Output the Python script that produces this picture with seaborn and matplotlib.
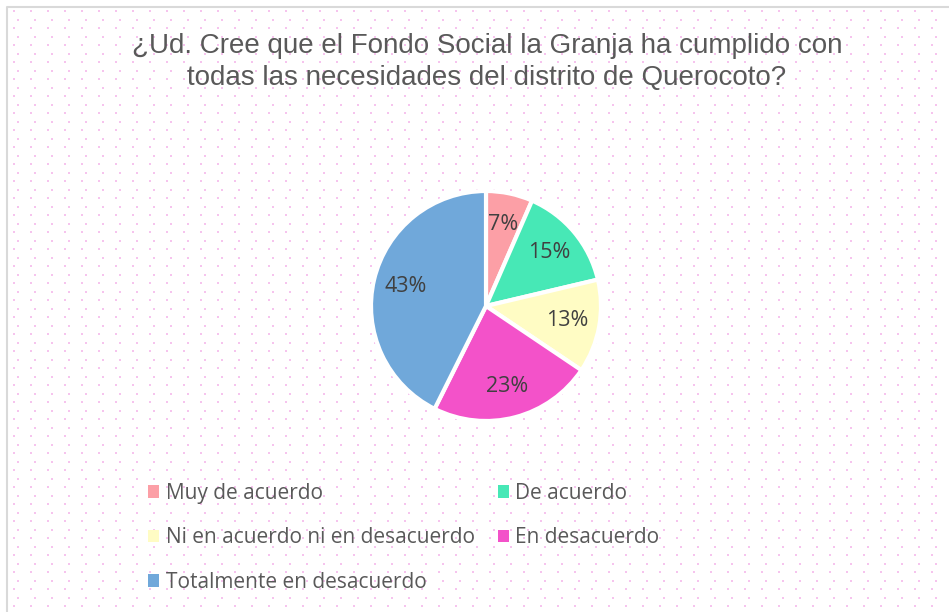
import numpy as np
import matplotlib
matplotlib.use("Agg")
import matplotlib.pyplot as plt
import seaborn as sns
from matplotlib.patches import Patch

# data (respondent counts, labels shown as rounded %)
categorias = ["Muy de acuerdo", "De acuerdo", "Ni en acuerdo ni en desacuerdo",
              "En desacuerdo", "Totalmente en desacuerdo"]
respuestas = [4, 9, 8, 14, 26]
colores = ["#FC9FA6", "#47E8B6", "#FFFCC4", "#F352C9", "#70A8DA"]
titulo = ("¿Ud. Cree que el Fondo Social la Granja ha cumplido con\n"
          "todas las necesidades del distrito de Querocoto?")

sns.set_theme(style="white")
plt.rcParams['font.family'] = ['Liberation Sans', 'DejaVu Sans']

W, H = 949, 612
fig = plt.figure(figsize=(W / 100, H / 100), dpi=100)
fig.patch.set_facecolor("white")

# dotted background
bg = fig.add_axes([0, 0, 1, 1], zorder=0)
bg.set_xlim(0, W)
bg.set_ylim(H, 0)
bg.axis("off")
step = 8.5
xs, ys = [], []
for i, y in enumerate(np.arange(11, H, step)):
    off = 0 if i % 2 == 0 else step / 2
    for x in np.arange(14 + off, W, step * 2):
        xs.append(x)
        ys.append(y)
bg.scatter(xs, ys, s=3.0, marker="s", color="#F6C4EE", linewidths=0)
bg.plot([7.5, 7.5, W], [H, 6.5, 6.5], color="#D9D9D9", lw=1.5)

# title
fig.text(487 / W, 1 - 62 / H, titulo, ha="center", va="center",
         fontsize=20, color="#595959", linespacing=1.28)

# pie
cx, cy, r = 486, 306, 115
ax = fig.add_axes([(cx - r) / W, (H - cy - r) / H, 2 * r / W, 2 * r / H], zorder=2)
wedges, texts, autotexts = ax.pie(
    respuestas, colors=colores, startangle=90, counterclock=False,
    autopct="%.0f%%", pctdistance=0.72,
    wedgeprops=dict(edgecolor="white", linewidth=3),
    textprops=dict(fontsize=15.5, color="#404040", family=["Open Sans", "DejaVu Sans"]))
ax.set_xlim(-1, 1)
ax.set_ylim(-1, 1)
ax.set_aspect("equal")

# legend, row-major order across two columns
handles = [Patch(facecolor=c, edgecolor="none") for c in colores]
orden = [0, 2, 4, 1, 3]
leg = fig.legend([handles[i] for i in orden], [categorias[i] for i in orden],
                 ncol=2, loc="upper left", bbox_to_anchor=(148 / W, 1 - 483 / H),
                 frameon=False, borderpad=0, borderaxespad=0,
                 handlelength=0.55, handleheight=0.55, handletextpad=0.3,
                 labelspacing=1.12, columnspacing=1.1,
                 prop=dict(family=["Open Sans", "DejaVu Sans"], size=15))
for t in leg.get_texts():
    t.set_color("#595959")

fig.savefig("out.png", dpi=100)
